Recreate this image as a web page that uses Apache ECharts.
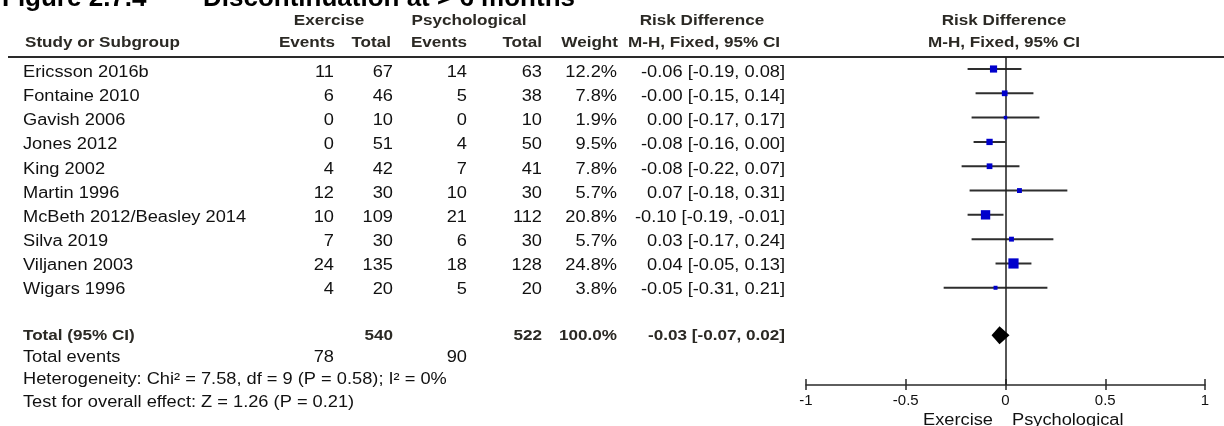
<!DOCTYPE html>
<html><head><meta charset="utf-8">
<script src="https://cdn.jsdelivr.net/npm/echarts@6/dist/echarts.min.js"></script>
<style>html,body{margin:0;padding:0;background:#fff}#c{width:1224px;height:426px}</style>
</head><body><div id="c"></div><script>
// ---------- data ----------
const studies = ['Ericsson 2016b','Fontaine 2010','Gavish 2006','Jones 2012','King 2002','Martin 1996','McBeth 2012/Beasley 2014','Silva 2019','Viljanen 2003','Wigars 1996'];
const expEvents = [11, 6, 0, 0, 4, 12, 10, 7, 24, 4];
const expTotal  = [67, 46, 10, 51, 42, 30, 109, 30, 135, 20];
const psyEvents = [14, 5, 0, 4, 7, 10, 21, 6, 18, 5];
const psyTotal  = [63, 38, 10, 50, 41, 30, 112, 30, 128, 20];
const weights   = [12.2, 7.8, 1.9, 9.5, 7.8, 5.7, 20.8, 5.7, 24.8, 3.8];
const rd        = [-0.06, -0.004, 0.00, -0.08, -0.08, 0.07, -0.10, 0.03, 0.04, -0.05];
const ciLow     = [-0.19, -0.15, -0.17, -0.16, -0.22, -0.18, -0.19, -0.17, -0.05, -0.31];
const ciHigh    = [0.08, 0.14, 0.17, 0.00, 0.07, 0.31, -0.01, 0.24, 0.13, 0.21];
const totalExp = 540, totalPsy = 522, totalWeight = 100.0;
const totalRd = -0.03, totalLow = -0.07, totalHigh = 0.02;
const totalEventsExp = 78, totalEventsPsy = 90;
const xTicks = [-1, -0.5, 0, 0.5, 1];
const heterogeneity = 'Heterogeneity: Chi\u00b2 = 7.58, df = 9 (P = 0.58); I\u00b2 = 0%';
const overallEffect = 'Test for overall effect: Z = 1.26 (P = 0.21)';
const titleA = 'Figure 2.7.4';
const titleB = 'Discontinuation at > 6 months';
const favours = ['Exercise', 'Psychological'];

// ---------- layout ----------
const FONT = '"Liberation Sans", Arial, sans-serif';
const SX = 1.14;
const TXT = '#111', HDR = '#2b2924';
const rowTextY = i => 72.5 + 24.15 * i;
const TOTAL_Y = 336, EVENTS_Y = 358, HET_Y = 380, TEST_Y = 403;
const TOTAL_ROW = 10.95;
const col = {name: 23, expEv: 334, expTot: 393, psyEv: 467, psyTot: 542, weight: 617, ci: 785};

const fmt2 = v => v.toFixed(2);
const ciStr = (e, l, h) => fmt2(e) + ' [' + fmt2(l) + ', ' + fmt2(h) + ']';

const g = [];
function txt(text, x, y, align, bold, size, color, scale) {
  g.push({type: 'text', x: x, y: y, scaleX: scale == null ? SX : scale, silent: true, z: 10,
    style: {text: String(text), font: (bold ? 'bold ' : '') + (size || 16) + 'px ' + FONT,
      fill: color || (bold ? HDR : TXT), align: align, verticalAlign: 'middle',
      textAlign: align, textVerticalAlign: 'middle'}});
}
// title (top clipped)
txt(titleA, 2, -1, 'left', true, 26, '#000', 1);
txt(titleB, 203, -1, 'left', true, 26, '#000', 1);
// header rows
txt('Exercise', 329, 21, 'center', true, 15);
txt('Psychological', 469, 21, 'center', true, 15);
txt('Risk Difference', 702, 21, 'center', true, 15);
txt('Risk Difference', 1004, 21, 'center', true, 15);
txt('Study or Subgroup', 25, 43, 'left', true, 15);
txt('Events', 335, 43, 'right', true, 15);
txt('Total', 391, 43, 'right', true, 15);
txt('Events', 467, 43, 'right', true, 15);
txt('Total', 542, 43, 'right', true, 15);
txt('Weight', 618, 43, 'right', true, 15);
txt('M-H, Fixed, 95% CI', 780, 43, 'right', true, 15);
txt('M-H, Fixed, 95% CI', 1004, 43, 'center', true, 15);
g.push({type: 'line', silent: true, shape: {x1: 8, y1: 57, x2: 1224, y2: 57}, style: {stroke: '#2a2a2a', lineWidth: 2}});
// study rows
studies.forEach((s, i) => {
  const y = rowTextY(i);
  txt(s, col.name, y, 'left');
  txt(expEvents[i], col.expEv, y, 'right');
  txt(expTotal[i], col.expTot, y, 'right');
  txt(psyEvents[i], col.psyEv, y, 'right');
  txt(psyTotal[i], col.psyTot, y, 'right');
  txt(weights[i].toFixed(1) + '%', col.weight, y, 'right');
  txt(ciStr(rd[i], ciLow[i], ciHigh[i]), col.ci, y, 'right');
});
// total rows
txt('Total (95% CI)', col.name, TOTAL_Y, 'left', true, 15);
txt(totalExp, col.expTot, TOTAL_Y, 'right', true, 15);
txt(totalPsy, col.psyTot, TOTAL_Y, 'right', true, 15);
txt(totalWeight.toFixed(1) + '%', col.weight, TOTAL_Y, 'right', true, 15);
txt(ciStr(totalRd, totalLow, totalHigh), col.ci, TOTAL_Y, 'right', true, 15);
txt('Total events', col.name, EVENTS_Y, 'left');
txt(totalEventsExp, col.expEv, EVENTS_Y, 'right');
txt(totalEventsPsy, col.psyEv, EVENTS_Y, 'right');
txt(heterogeneity, col.name, HET_Y, 'left');
txt(overallEffect, col.name, TEST_Y, 'left');
// favours labels
txt(favours[0], 993, 421, 'right');
txt(favours[1], 1012, 421, 'left');

// ---------- chart ----------
const chart = echarts.init(document.getElementById('c'), null, {renderer: 'canvas', width: 1224, height: 426});
const xBase = {type: 'value', min: xTicks[0], max: xTicks[xTicks.length - 1], interval: 0.5, splitLine: {show: false}};
chart.setOption({
  animation: false,
  backgroundColor: '#fff',
  grid: {left: 806, width: 399, top: 57, height: 328},
  xAxis: [
    Object.assign({}, xBase, {position: 'bottom',
      axisLine: {onZero: false, lineStyle: {color: '#2a2a2a', width: 1.5}},
      axisTick: {length: 5, lineStyle: {color: '#2a2a2a', width: 1.5}},
      axisLabel: {color: TXT, fontSize: 15, fontFamily: FONT, margin: 8}}),
    Object.assign({}, xBase, {position: 'top', offset: -328,
      axisLine: {show: false, onZero: false},
      axisTick: {length: 6, lineStyle: {color: '#2a2a2a', width: 1.5}},
      axisLabel: {show: false}})
  ],
  yAxis: {type: 'value', inverse: true, min: -0.494, max: 13.0, show: false},
  graphic: {elements: g},
  series: [
    {type: 'custom', xAxisIndex: 0, silent: true, z: 2,
      encode: {x: [0, 1], y: 2},
      data: studies.map((s, i) => [ciLow[i], ciHigh[i], i]),
      renderItem: (p, api) => {
        const a = api.coord([api.value(0), api.value(2)]);
        const b = api.coord([api.value(1), api.value(2)]);
        return {type: 'line', shape: {x1: a[0], y1: a[1], x2: b[0], y2: b[1]},
          style: {stroke: '#2e2e2e', lineWidth: 2}};
      }},
    {type: 'scatter', xAxisIndex: 0, silent: true, z: 4, symbol: 'rect',
      data: studies.map((s, i) => [rd[i], i, weights[i]]),
      symbolSize: v => Math.max(3.5, 2.05 * Math.sqrt(v[2])),
      itemStyle: {color: '#0000cc', opacity: 1},
      markLine: {silent: true, symbol: 'none', label: {show: false}, z: 3,
        lineStyle: {color: '#1e1e1e', width: 1.5, type: 'solid'},
        data: [{xAxis: 0}]}},
    {type: 'custom', xAxisIndex: 0, silent: true, z: 5,
      encode: {x: [0, 1, 2], y: 3},
      data: [[totalLow, totalRd, totalHigh, TOTAL_ROW]],
      renderItem: (p, api) => {
        const l = api.coord([api.value(0), api.value(3)]);
        const c = api.coord([api.value(1), api.value(3)]);
        const h = api.coord([api.value(2), api.value(3)]);
        const hh = 9;
        return {type: 'polygon', shape: {points: [[l[0], l[1]], [c[0], c[1] - hh], [h[0], h[1]], [c[0], c[1] + hh]]},
          style: {fill: '#000'}};
      }}
  ]
});
</script></body></html>
